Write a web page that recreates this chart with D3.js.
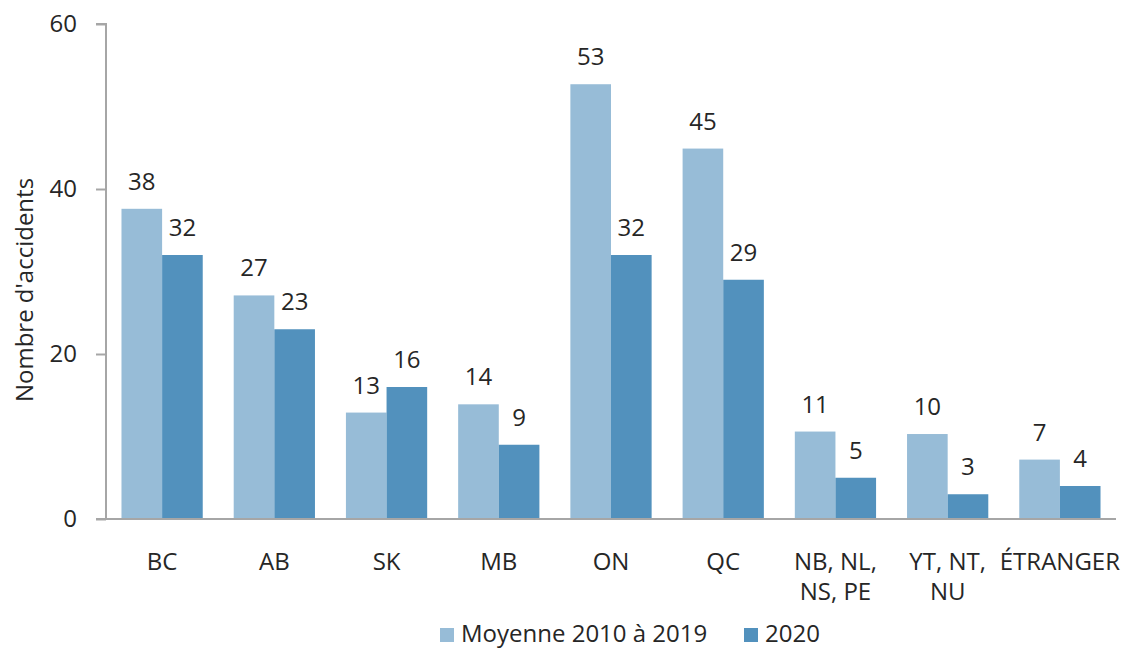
<!DOCTYPE html>
<html>
<head>
<meta charset="utf-8">
<script src="https://cdn.jsdelivr.net/npm/d3@7"></script>
<style>
  body { margin: 0; background: #fff; }
  text { font-family: "Open Sans", "Noto Sans", sans-serif; fill: #262626; }
</style>
</head>
<body>
<svg id="chart" width="1123" height="650"></svg>
<script>
// categories (lines of each x label)
const categories = [["BC"], ["AB"], ["SK"], ["MB"], ["ON"], ["QC"], ["NB, NL,", "NS, PE"], ["YT, NT,", "NU"], ["ÉTRANGER"]];
const moyenne = [37.6, 27.1, 12.9, 13.9, 52.7, 44.9, 10.6, 10.3, 7.2];
const an2020 = [32, 23, 16, 9, 32, 29, 5, 3, 4];
const seriesNames = ["Moyenne 2010 à 2019", "2020"];
const yTicks = [0, 20, 40, 60];
const colors = ["#97bcd7", "#5291bd"];

let svg = d3.select("#chart");
let mLeft = 106, mRight = 1116, mTop = 24, mBottom = 519;
let fs = 24;

let x = d3.scaleBand().domain(d3.range(categories.length)).range([mLeft, mRight]).paddingInner(0.276).paddingOuter(0.138);
let xs = d3.scaleBand().domain([0, 1]).range([0, x.bandwidth()]);
let y = d3.scaleLinear().domain([0, 60]).range([mBottom, mTop]);

// y axis
let ya = svg.append("g").attr("transform", `translate(${mLeft},0)`)
  .call(d3.axisLeft(y).tickValues(yTicks).tickSize(10).tickPadding(19));
ya.select(".domain").attr("stroke", "#a6a6a6").attr("stroke-width", 2).attr("d", `M-10,${mTop}H0V${mBottom}`);
ya.selectAll(".tick line").attr("stroke", "#a6a6a6").attr("stroke-width", 2);
ya.selectAll(".tick text").attr("font-size", fs).attr("fill", "#262626")
  .style("font-family", '"Open Sans", sans-serif');

// bars
let data = [moyenne, an2020];
data.forEach((vals, s) => {
  svg.append("g").selectAll("rect").data(vals).enter().append("rect")
    .attr("x", (d, i) => x(i) + xs(s))
    .attr("width", xs.bandwidth())
    .attr("y", d => y(d))
    .attr("height", d => y(0) - y(d))
    .attr("fill", colors[s]);
  svg.append("g").selectAll("text").data(vals).enter().append("text")
    .attr("x", (d, i) => x(i) + xs(s) + xs.bandwidth() / 2)
    .attr("y", d => y(d) - 19)
    .attr("text-anchor", "middle")
    .attr("font-size", fs)
    .text(d => Math.round(d));
});

// x axis line
svg.append("line").attr("x1", mLeft - 10).attr("x2", mRight).attr("y1", mBottom).attr("y2", mBottom)
  .attr("stroke", "#a6a6a6").attr("stroke-width", 2);

// x labels
let xl = svg.append("g").selectAll("text").data(categories).enter().append("text")
  .attr("x", (d, i) => x(i) + x.bandwidth() / 2)
  .attr("y", 570)
  .attr("text-anchor", "middle")
  .attr("font-size", fs);
xl.selectAll("tspan").data(d => d).enter().append("tspan")
  .attr("x", function () { return d3.select(this.parentNode).attr("x"); })
  .attr("dy", (d, i) => i ? 30 : 0)
  .text(d => d);

// y title
svg.append("text").attr("transform", "translate(33,290) rotate(-90)")
  .attr("text-anchor", "middle").attr("font-size", fs).text("Nombre d'accidents");

// legend
let lx = [440, 744];
seriesNames.forEach((n, i) => {
  svg.append("rect").attr("x", lx[i]).attr("y", 628).attr("width", 14).attr("height", 14).attr("fill", colors[i]);
  svg.append("text").attr("x", lx[i] + 21).attr("y", 642).attr("font-size", fs).text(n);
});
</script>
</body>
</html>
